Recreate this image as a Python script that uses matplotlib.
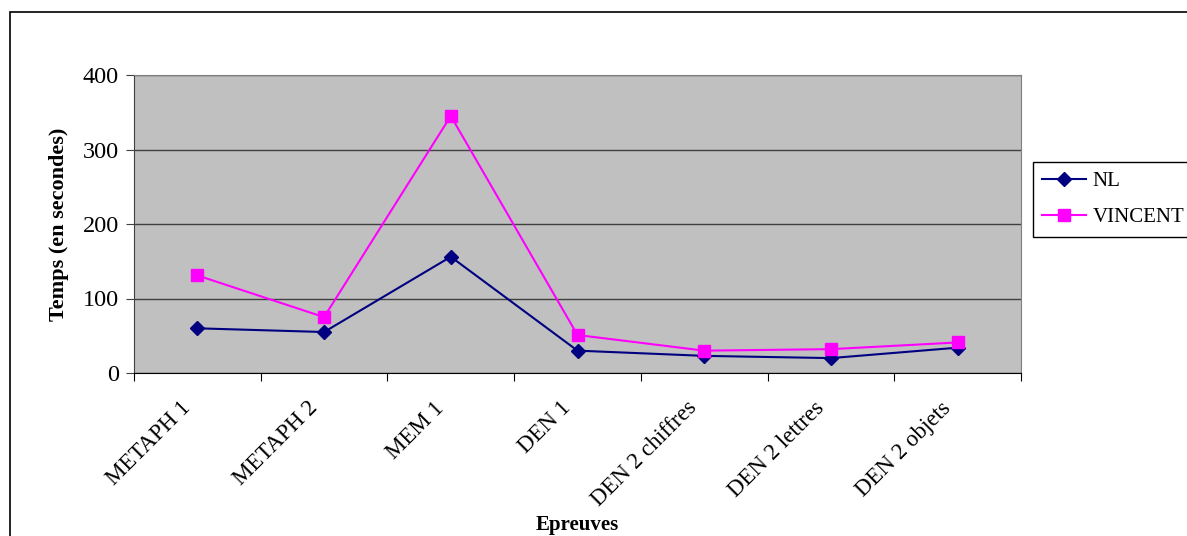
import matplotlib.pyplot as plt
from matplotlib.patches import Rectangle
from matplotlib.transforms import ScaledTranslation

# Data
epreuves = ["METAPH 1", "METAPH 2", "MEM 1", "DEN 1",
            "DEN 2 chiffres", "DEN 2 lettres", "DEN 2 objets"]
nl = [60, 55, 156, 30, 23, 20, 34]
vincent = [131, 75, 345, 51, 30, 32, 41]
y_ticks = [0, 100, 200, 300, 400]

plt.rcParams["font.family"] = ["Liberation Serif", "DejaVu Serif"]

fig = plt.figure(figsize=(11.87, 5.36), dpi=100)
ax = fig.add_axes([134 / 1187, 1 - 373 / 536, (1021 - 134) / 1187, (373 - 75) / 536])

x = list(range(len(epreuves)))
ax.plot(x, nl, color="#000080", lw=1.5, marker="D", ms=7, label="NL", zorder=3)
ax.plot(x, vincent, color="#FF00FF", lw=1.5, marker="s", ms=8, label="VINCENT", zorder=3)

ax.set_facecolor("#C0C0C0")
ax.set_xlim(-0.5, len(epreuves) - 0.5)
ax.set_ylim(0, 400)
ax.set_yticks(y_ticks)
ax.yaxis.grid(True, color="#404040", lw=1)
ax.set_axisbelow(True)
ax.tick_params(axis="y", labelsize=17.5, length=6, pad=5, direction="out", color="#404040")

# category boundaries get tick marks, labels sit at the centers
ax.set_xticks([i - 0.5 for i in range(len(epreuves) + 1)])
ax.set_xticklabels([])
ax.set_xticks(x, minor=True)
ax.set_xticklabels(epreuves, minor=True, rotation=45, ha="right", va="center",
                   rotation_mode="anchor", fontsize=16.5)
ax.tick_params(axis="x", which="major", length=6, color="black")
ax.tick_params(axis="x", which="minor", length=0, pad=23)
shift = ScaledTranslation(-10 / 100, 0, fig.dpi_scale_trans)
for lab in ax.get_xticklabels(minor=True):
    lab.set_transform(lab.get_transform() + shift)

for s in ["top", "right"]:
    ax.spines[s].set_color("#808080")
ax.spines["left"].set_color("#404040")
ax.spines["bottom"].set_color("black")

ax.set_ylabel("Temps (en secondes)", fontsize=16, fontweight="bold", labelpad=10)
fig.text((134 + 1021) / 2 / 1187, 1 - 525 / 536, "Epreuves", fontsize=15,
         fontweight="bold", ha="center", va="center")

leg = fig.legend(loc="upper left", bbox_to_anchor=(1033 / 1187, 1 - 162 / 536),
                 fontsize=15, fancybox=False, edgecolor="black", framealpha=1,
                 borderaxespad=0, handlelength=2.1, labelspacing=0.8,
                 handletextpad=0.3, borderpad=0.45)
leg.get_frame().set_linewidth(1)

# outer chart frame
fig.patches.append(Rectangle((10 / 1187, -0.05), 1.1, 0.05 + 1 - 12 / 536,
                             transform=fig.transFigure, fill=False,
                             edgecolor="black", lw=1.2))

fig.savefig("out.png", dpi=100)
